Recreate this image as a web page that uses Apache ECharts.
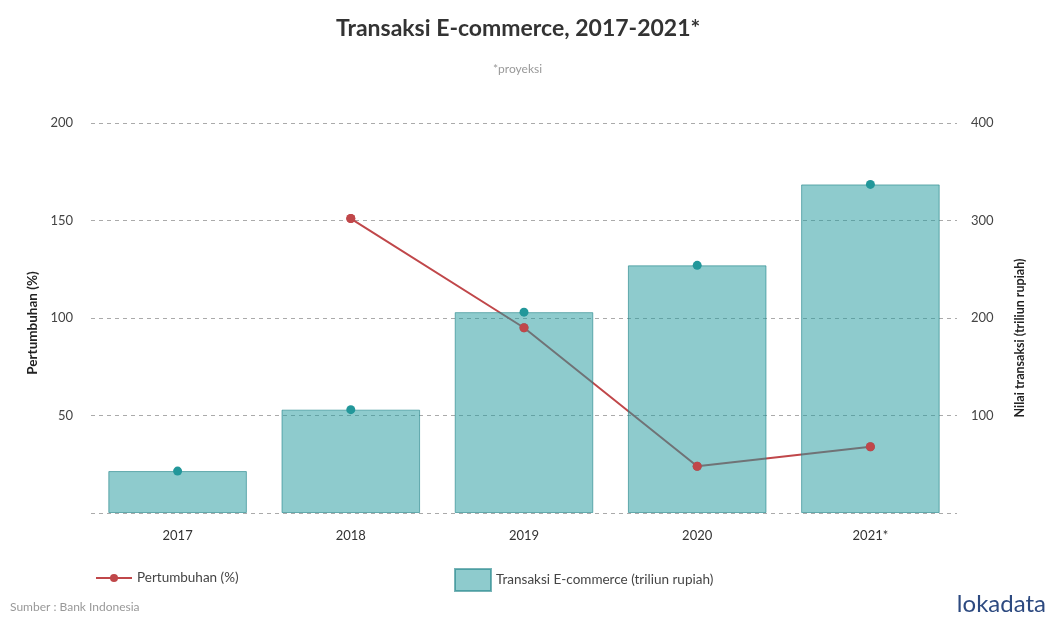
<!DOCTYPE html>
<html><head><meta charset="utf-8">
<script src="https://cdn.jsdelivr.net/npm/echarts@6/dist/echarts.min.js"></script>
<style>html,body{margin:0;padding:0;background:#fff}#c{width:1054px;height:622px}</style>
</head><body><div id="c"></div>
<script>
const categories = ['2017','2018','2019','2020','2021*'];
const transaksi = [43, 106, 206, 254, 337];
const pertumbuhan = [null, 151, 95, 24, 34];
const leftTicks = [0, 50, 100, 150, 200];
const rightTicks = [0, 100, 200, 300, 400];

const FONT = 'Lato';
const chart = echarts.init(document.getElementById('c'));
chart.setOption({
  animation: false,
  textStyle: { fontFamily: FONT },
  title: [
    { text: 'Transaksi E-commerce, 2017-2021*', left: 331, top: 12,
      textStyle: { fontFamily: FONT, fontSize: 23, fontWeight: 'bold', color: '#333' } },
    { text: '*proyeksi', left: 488, top: 58,
      textStyle: { fontFamily: FONT, fontSize: 12, fontWeight: 'normal', color: '#999' } }
  ],
  grid: { left: 91, right: 97, top: 123, bottom: 109 },
  legend: [
    { data: ['Pertumbuhan (%)'], left: 90, top: 566, itemWidth: 36, itemHeight: 10,
      textStyle: { fontFamily: FONT, fontSize: 13.5, color: '#444' } },
    { data: [{ name: 'Transaksi E-commerce (triliun rupiah)', icon: 'rect' }], left: 449, top: 563,
      itemWidth: 36, itemHeight: 22,
      textStyle: { fontFamily: FONT, fontSize: 13.5, color: '#444' } }
  ],
  xAxis: {
    type: 'category', data: categories,
    axisLine: { show: false }, axisTick: { show: false },
    axisLabel: { color: '#333', fontSize: 13, margin: 16, fontFamily: FONT }
  },
  yAxis: [
    { type: 'value', min: leftTicks[0], max: leftTicks[leftTicks.length-1], interval: 50,
      axisLine: { show: false }, axisTick: { show: false },
      axisLabel: { color: '#444', fontSize: 13, margin: 18, fontFamily: FONT,
        formatter: v => v === 0 ? '' : String(v) },
      splitLine: { show: true, lineStyle: { type: [4, 4], color: '#aaa', width: 1 } }
    },
    { type: 'value', min: rightTicks[0], max: rightTicks[rightTicks.length-1], interval: 100,
      axisLine: { show: false }, axisTick: { show: false },
      axisLabel: { color: '#444', fontSize: 13, margin: 14, fontFamily: FONT,
        formatter: v => v === 0 ? '' : String(v) },
      splitLine: { show: false }
    }
  ],
  series: [
    { name: 'Pertumbuhan (%)', type: 'line', yAxisIndex: 0, data: pertumbuhan, z: 1,
      symbol: 'circle', symbolSize: 9, showSymbol: true,
      lineStyle: { color: '#c0474a', width: 2 }, itemStyle: { color: '#c0474a' } },
    { name: 'Transaksi E-commerce (triliun rupiah)', type: 'bar', yAxisIndex: 1, data: transaksi, z: 2,
      barCategoryGap: '20%',
      itemStyle: { color: 'rgba(38,155,160,0.52)', borderColor: 'rgba(30,130,135,0.6)', borderWidth: 1 } },
    { name: 'dots-red', type: 'scatter', yAxisIndex: 0, data: pertumbuhan, z: 3,
      symbolSize: 9, itemStyle: { color: '#c0474a', opacity: 1 } },
    { name: 'dots-teal', type: 'scatter', yAxisIndex: 1, data: transaksi, z: 3,
      symbolSize: 9, itemStyle: { color: '#22979a', opacity: 1 } }
  ],
  graphic: [
    { type: 'text', x: 33, y: 323, rotation: Math.PI / 2,
      style: { text: 'Pertumbuhan (%)', fill: '#222', font: 'bold 13.5px Lato', align: 'center', verticalAlign: 'middle' } },
    { type: 'text', x: 1020, y: 338, rotation: Math.PI / 2,
      style: { text: 'Nilai transaksi (triliun rupiah)', fill: '#222', font: 'bold 12.5px Lato', align: 'center', verticalAlign: 'middle' } },
    { type: 'text', left: 10, top: 601, style: { text: 'Sumber : Bank Indonesia', fill: '#999', font: '12px Lato' } },
    { type: 'text', right: 8, top: 592, style: { text: 'lokadata', fill: '#2d4a80', font: '24px Lato' } }
  ]
});
</script></body></html>
